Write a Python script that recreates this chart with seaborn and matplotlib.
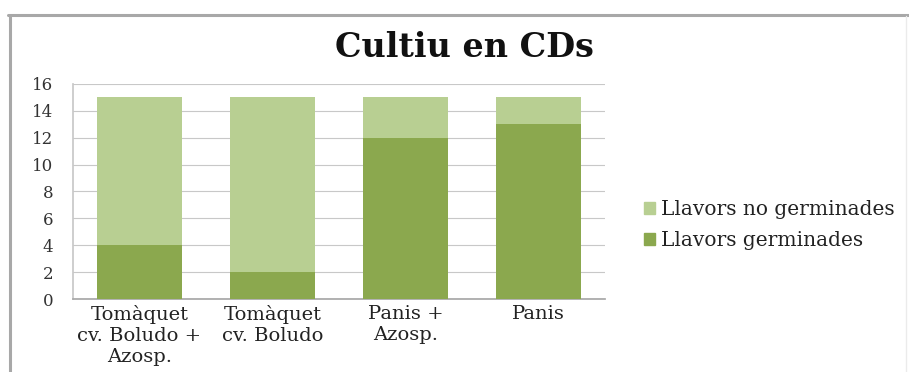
import matplotlib
matplotlib.use("Agg")
import matplotlib.pyplot as plt
import seaborn as sns
import pandas as pd
from matplotlib.lines import Line2D
from matplotlib.patches import Patch

categories = ["Tomàquet\ncv. Boludo +\nAzosp.", "Tomàquet\ncv. Boludo", "Panis +\nAzosp.", "Panis"]
germinades = [4, 2, 12, 13]
no_germinades = [11, 13, 3, 2]
yticks = [0, 2, 4, 6, 8, 10, 12, 14, 16]

sns.set_theme(style="white")
plt.rcParams['font.family'] = ['DejaVu Serif', 'Liberation Serif']

dark = "#8BA84E"
light = "#B8CF92"

df = pd.DataFrame({
    "cat": categories,
    "germ": germinades,
    "nogerm": no_germinades,
})
df["total"] = df["germ"] + df["nogerm"]

W, H = 909, 372
fig = plt.figure(figsize=(W / 100, H / 100), dpi=100)
ax = fig.add_axes([73 / W, 1 - 299 / H, (605 - 73) / W, (299 - 84) / H])

sns.barplot(data=df, x="cat", y="total", color=light, saturation=1, width=0.64,
            linewidth=0, ax=ax, zorder=3)
sns.barplot(data=df, x="cat", y="germ", color=dark, saturation=1, width=0.64,
            linewidth=0, ax=ax, zorder=4)

ax.set_ylim(0, 16)
ax.set_yticks(yticks)
ax.set_xlim(-0.5, 3.5)
ax.yaxis.grid(True, color="#C8C8C8", linewidth=0.8, zorder=0)
ax.set_axisbelow(True)
ax.set_xlabel("")
ax.set_ylabel("")
for s in ["top", "right"]:
    ax.spines[s].set_visible(False)
ax.spines["left"].set_color("#C8C8C8")
ax.spines["bottom"].set_color("#A8A8A8")
ax.tick_params(axis="y", labelsize=12, pad=14, length=0, colors="#333333")
ax.tick_params(axis="x", labelsize=14, pad=4, length=0, colors="#222222")
for lab in ax.get_xticklabels():
    lab.set_linespacing(1.22)

fig.text(464 / W, 1 - 57 / H, "Cultiu en CDs", ha="center", va="baseline",
         fontsize=24, fontweight="bold", color="#111111")

handles = [Patch(color=light, label="Llavors no germinades"),
           Patch(color=dark, label="Llavors germinades")]
fig.legend(handles=handles, loc="center left", bbox_to_anchor=(626 / W, 1 - 225 / H),
           frameon=False, fontsize=14.5, handlelength=0.55, handleheight=0.55,
           handletextpad=0.3, labelspacing=0.6, labelcolor="#222222")

fig.add_artist(Line2D([8 / W, 1], [1 - 15 / H, 1 - 15 / H], transform=fig.transFigure,
                      color="#A8A8A8", linewidth=2.2))
fig.add_artist(Line2D([9.5 / W, 9.5 / W], [0, 1 - 15 / H], transform=fig.transFigure,
                      color="#A8A8A8", linewidth=2.2))
fig.add_artist(Line2D([906 / W, 906 / W], [0, 1 - 16 / H], transform=fig.transFigure,
                      color="#EBEBEB", linewidth=1))

fig.savefig("out.png", dpi=100)
